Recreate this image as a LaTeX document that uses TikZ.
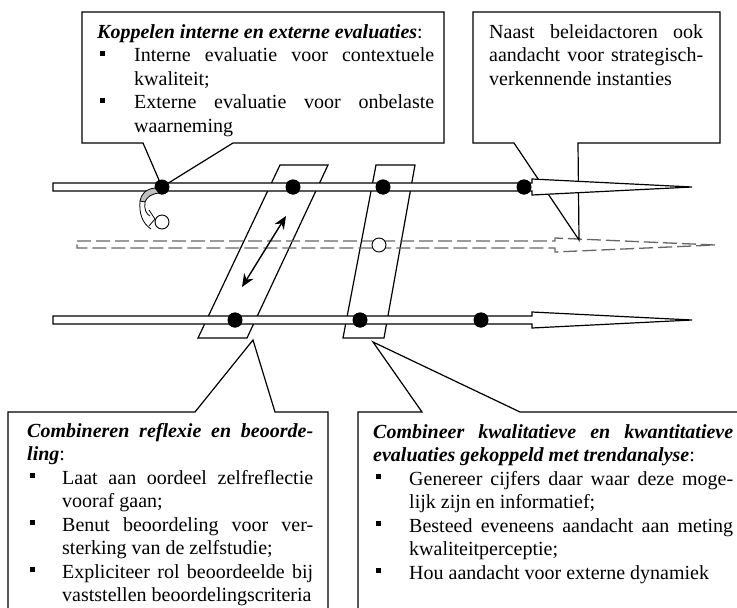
\documentclass[tikz,border=0pt]{standalone}
\usepackage{fontspec}
\setmainfont{Liberation Serif}
\usetikzlibrary{arrows.meta}
\newcommand{\bul}{\rule[6pt]{5pt}{5pt}}
\newcommand{\bi}[1]{\textbf{\textit{#1}}}
\newcommand{\jl}[2]{\makebox[#1pt][s]{#2}}
\newcommand{\itm}[1]{\makebox[#1pt][l]{\hspace{3pt}\bul}}
\newcommand{\tline}[1]{\hbox{#1}}

\begin{document}
\begin{tikzpicture}[x=1pt, y=-1pt,
  callout/.style={draw=black, line width=1.2pt, fill=white, line join=miter},
  band/.style={draw=black, line width=1.2pt, fill=white},
  flow/.style={draw=black, line width=1.2pt, fill=white, line join=miter},
  ghost/.style={draw=black!60, line width=1.3pt, dash pattern=on 14pt off 5pt},
  dot/.style={circle, fill=black, inner sep=0pt, minimum size=15pt},
  hole/.style={circle, draw=black, fill=white, line width=0.9pt, inner sep=0pt, minimum size=14pt},
  txt/.style={anchor=base west, inner sep=0pt, font=\fontsize{20}{23.5}\selectfont}]

\useasboundingbox (0,0) rectangle (737,608);
\fill[white] (0,0) rectangle (737,608);
\clip (0,0) rectangle (737,608);

% slanted bands linking the upper and lower lines
\draw[band] (280,165) -- (328,165) -- (247,338) -- (198,338) -- cycle;
\draw[band] (376,165) -- (415,165) -- (384,338) -- (343,338) -- cycle;

% dashed middle line with its arrow head
\draw[ghost] (77,241) -- (555,241) -- (555,238) -- (715,245) -- (555,252)
  -- (555,248) -- (77,248) -- cycle;

% point markers
\coordinate (tipN) at (579,240);
\node[dot] (d1) at (162,187) {};
\node[dot] (d2) at (293,187) {};
\node[dot] (d3) at (383,187) {};
\node[dot] (d4) at (524,187) {};
\node[dot] (e1) at (235,320) {};
\node[dot] (e2) at (360,320) {};
\node[dot] (e3) at (481,320) {};

% upper callouts
\draw[callout] (82,12) -- (444,12) -- (444,143) -- (233,143) -- (d1.center)
  -- (143,143) -- (82,143) -- cycle;
\draw[callout] (473,12) -- (720,12) -- (720,143) -- (578,143) -- (tipN)
  -- (514,143) -- (473,143) -- cycle;

% upper and lower arrows
\draw[flow] (53,183) -- (532,183) -- (532,179) -- (692,187) -- (532,195)
  -- (532,191) -- (53,191) -- cycle;
\draw[flow] (53,316) -- (532,316) -- (532,312) -- (692,320) -- (532,328)
  -- (532,324) -- (53,324) -- cycle;

% redraw markers on top of the arrows
\foreach \p in {d1,d2,d3,d4,e1,e2,e3} \fill (\p) circle (7.5pt);

\node[hole] (h1) at (162,222) {};
\node[hole] (h2) at (379,245) {};

% double arrow inside the first band
\coordinate (bA) at (286,216);
\coordinate (bB) at (242,287);
\draw[{Stealth[length=13pt,width=11pt]}-{Stealth[length=13pt,width=11pt]}, line width=1.4pt] (bA) -- (bB);

% curved arrow from the first marker down to the open circle
\filldraw[fill=black!25, line width=0.8pt] (155,188) .. controls (146,189) and (141,194) .. (140,201)
  -- (145,202) .. controls (147,197) and (151,194) .. (159,193) -- cycle;
\draw[line width=0.8pt] (140,201) .. controls (139,213) and (142,223) .. (151,229);
\draw[line width=0.8pt] (145,202) .. controls (144,209) and (146,214) .. (150,216);
\draw[line width=0.8pt] (149,210) -- (155,219) -- (149,226);

% lower callouts
\draw[callout] (8,620) -- (8,412) -- (195,412) -- (253,340) -- (275,412)
  -- (328,412) -- (328,620);
\draw[callout] (358,620) -- (358,412) -- (422,412) -- (373,342) -- (520,412)
  -- (750,412) -- (750,620);

% texts
\node[txt] (t1) at (97,38) {\vtop{%
  \tline{\bi{Koppelen interne en externe evaluaties}:}
  \tline{\itm{37}\jl{300}{Interne evaluatie voor contextuele}}
  \tline{\hspace*{37pt}kwaliteit;}
  \tline{\itm{37}\jl{300}{Externe evaluatie voor onbelaste}}
  \tline{\hspace*{37pt}waarneming}}};

\node[txt] (t2) at (489,38) {\vtop{%
  \tline{\jl{214}{Naast beleidactoren ook}}
  \tline{\jl{214}{aandacht voor strategisch-}}
  \tline{verkennende instanties}}};

\node[txt] (t3) at (27,437) {\vtop{%
  \tline{\jl{286}{\bi{Combineren reflexie en beoorde-}}}
  \tline{\bi{ling}:}
  \tline{\itm{35}\jl{251}{Laat aan oordeel zelfreflectie}}
  \tline{\hspace*{35pt}vooraf gaan;}
  \tline{\itm{35}\jl{251}{Benut beoordeling voor ver-}}
  \tline{\hspace*{35pt}sterking van de zelfstudie;}
  \tline{\itm{35}\jl{251}{Expliciteer rol beoordeelde bij}}
  \tline{\hspace*{35pt}vaststellen beoordelingscriteria}}};

\node[txt] (t4) at (373,438) {\vtop{%
  \tline{\jl{360}{\bi{Combineer kwalitatieve en kwantitatieve}}}
  \tline{\bi{evaluaties gekoppeld met trendanalyse}:}
  \tline{\itm{36}\jl{324}{Genereer cijfers daar waar deze moge-}}
  \tline{\hspace*{36pt}lijk zijn en informatief;}
  \tline{\itm{36}\jl{324}{Besteed eveneens aandacht aan meting}}
  \tline{\hspace*{36pt}kwaliteitperceptie;}
  \tline{\itm{36}Hou aandacht voor externe dynamiek}}};
\end{tikzpicture}
\end{document}
